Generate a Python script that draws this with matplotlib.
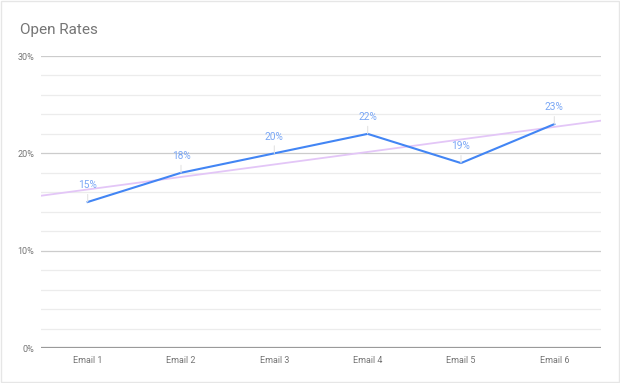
import numpy as np
import matplotlib.pyplot as plt
from matplotlib.patches import Rectangle
from matplotlib.ticker import MultipleLocator, FuncFormatter

plt.rcParams['font.family'] = ['Roboto', 'DejaVu Sans']

emails = ['Email 1', 'Email 2', 'Email 3', 'Email 4', 'Email 5', 'Email 6']
open_rates = [15, 18, 20, 22, 19, 23]

x = np.arange(len(emails))
fig = plt.figure(figsize=(6.2, 3.83), dpi=100)
ax = fig.add_axes([41/620, 1 - 348/383, 560/620, 292/383])

# linear trendline across the full plot area
coef = np.polyfit(x, open_rates, 1)
tx = np.array([-0.5, len(emails) - 0.5])
ax.plot(tx, np.polyval(coef, tx), color='#e3c6f7', lw=1.3, zorder=2)

ax.plot(x, open_rates, color='#4285f4', lw=1.5, zorder=3)

for xi, v in zip(x, open_rates):
    ax.annotate(f'{v}%', (xi, v), xytext=(0, 12), textcoords='offset points',
                ha='center', va='center', fontsize=7.3, color='#7aa7f5',
                arrowprops=dict(arrowstyle='-', color='#e3e3e3', lw=0.8,
                                shrinkA=1, shrinkB=0), zorder=4)

ax.set_xlim(-0.5, len(emails) - 0.5)
ax.set_ylim(0, 30)
ax.set_xticks(x)
ax.set_xticklabels(emails)
ax.yaxis.set_major_locator(MultipleLocator(10))
ax.yaxis.set_minor_locator(MultipleLocator(2))
ax.yaxis.set_major_formatter(FuncFormatter(lambda v, p: f'{v:.0f}%'))
ax.grid(True, which='major', axis='y', color='#cccccc', lw=0.9)
ax.grid(True, which='minor', axis='y', color='#ececec', lw=0.9)
ax.set_axisbelow(True)
ax.axhline(0, color='#9a9a9a', lw=1.6, zorder=3)
ax.tick_params(axis='both', which='both', length=0, labelsize=6.5, labelcolor='#757575')
ax.tick_params(axis='y', pad=5)
ax.tick_params(axis='x', pad=6)
for s in ax.spines.values():
    s.set_visible(False)

fig.text(20/620, 1 - 34/383, 'Open Rates', fontsize=11, color='#757575', va='baseline')
fig.patches.append(Rectangle((0.001, 0.003), 0.997, 0.995, transform=fig.transFigure,
                             fill=False, edgecolor='#e6e6e6', lw=1))

fig.savefig('out.png', dpi=100)
